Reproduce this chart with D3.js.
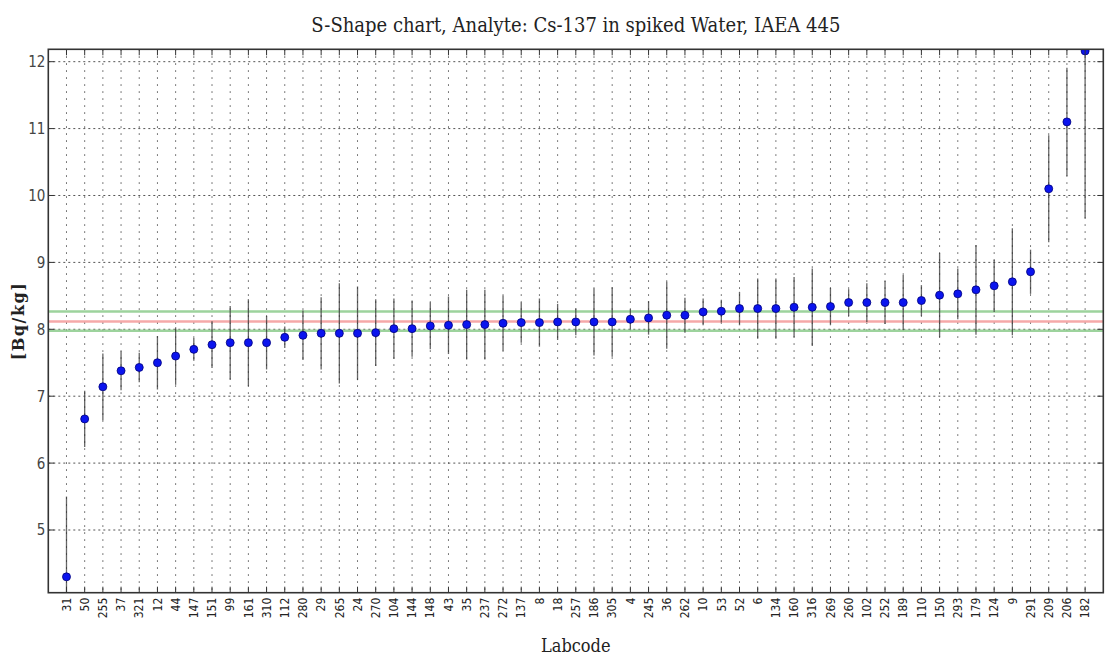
<!DOCTYPE html>
<html>
<head>
<meta charset="utf-8">
<script src="https://cdn.jsdelivr.net/npm/d3@7"></script>
<style>
  html, body { margin: 0; padding: 0; background: #fff; }
</style>
</head>
<body>
<script>
// ---- data ----
const labcodes = ["31","50","255","37","321","12","44","147","151","99","161","310","112","280","29","265","24","270","104","144","148","43","35","237","272","137","8","18","257","186","305","4","245","36","262","10","53","52","6","134","160","316","269","260","102","252","189","110","150","293","179","124","9","291","209","206","182"];
const values = [4.30,6.66,7.14,7.38,7.43,7.50,7.60,7.70,7.77,7.80,7.80,7.80,7.88,7.91,7.94,7.94,7.94,7.95,8.01,8.01,8.05,8.06,8.07,8.07,8.09,8.10,8.10,8.11,8.11,8.11,8.11,8.15,8.17,8.21,8.21,8.26,8.27,8.31,8.31,8.31,8.33,8.33,8.34,8.40,8.40,8.40,8.40,8.43,8.51,8.53,8.59,8.65,8.71,8.86,10.10,11.10,12.16];
const uncertainties = [1.20,0.42,0.50,0.29,0.22,0.40,0.43,0.17,0.35,0.55,0.65,0.40,0.16,0.37,0.54,0.75,0.70,0.50,0.45,0.42,0.35,0.43,0.52,0.52,0.41,0.30,0.36,0.27,0.20,0.50,0.52,0.15,0.25,0.50,0.26,0.20,0.17,0.25,0.45,0.45,0.45,0.58,0.28,0.20,0.29,0.32,0.41,0.23,0.63,0.38,0.67,0.39,0.80,0.33,0.80,0.81,2.50];
const yTicks = [5,6,7,8,9,10,11,12];
const refValue = 8.115;
const refLow = 7.98;
const refHigh = 8.265;
const titleText = "S-Shape chart, Analyte: Cs-137 in spiked Water, IAEA 445";
const xLabelText = "Labcode";
const yLabelText = "[Bq/kg]";

// ---- layout ----
const W = 1107, H = 659;
const L = 48.3, R = 1103.3, T = 49.3, B = 592.7;

const svg = d3.select("body").append("svg")
  .attr("width", W).attr("height", H)
  .style("display", "block");

const x = d3.scaleLinear().domain([0, labcodes.length + 1]).range([L, R]);
const y = d3.scaleLinear().domain([4.063, 12.185]).range([B, T]);

svg.append("defs").append("clipPath").attr("id", "plotclip")
  .append("rect").attr("x", L).attr("y", T).attr("width", R - L).attr("height", B - T);

const plot = svg.append("g").attr("clip-path", "url(#plotclip)");

// grid: vertical
plot.append("g").selectAll("line").data(labcodes).join("line")
  .attr("x1", (d, i) => x(i + 1)).attr("x2", (d, i) => x(i + 1))
  .attr("y1", T).attr("y2", B)
  .attr("stroke", "#555").attr("stroke-width", 1)
  .attr("stroke-dasharray", "1.5,5.5");

// grid: horizontal
plot.append("g").selectAll("line").data(yTicks).join("line")
  .attr("x1", L).attr("x2", R)
  .attr("y1", d => y(d)).attr("y2", d => y(d))
  .attr("stroke", "#555").attr("stroke-width", 1)
  .attr("stroke-dasharray", "2,3");

// reference lines
const refs = [
  {v: refHigh, c: "#8ccc8c"},
  {v: refValue, c: "#f49a9a"},
  {v: refLow, c: "#8ccc8c"}
];
plot.append("g").selectAll("line").data(refs).join("line")
  .attr("x1", L).attr("x2", R)
  .attr("y1", d => y(d.v)).attr("y2", d => y(d.v))
  .attr("stroke", d => d.c).attr("stroke-width", 2.5).attr("opacity", 0.85);

// error bars
plot.append("g").selectAll("line").data(values).join("line")
  .attr("x1", (d, i) => x(i + 1)).attr("x2", (d, i) => x(i + 1))
  .attr("y1", (d, i) => y(d + uncertainties[i]))
  .attr("y2", (d, i) => y(d - uncertainties[i]))
  .attr("stroke", "#333").attr("stroke-width", 1.3).attr("opacity", 0.75);

// points
plot.append("g").selectAll("circle").data(values).join("circle")
  .attr("cx", (d, i) => x(i + 1)).attr("cy", d => y(d))
  .attr("r", 4)
  .attr("fill", "#0b14ee").attr("stroke", "#00007a").attr("stroke-width", 0.8);

// ticks (inward)
const tickG = svg.append("g").attr("stroke", "#333").attr("stroke-width", 1);
labcodes.forEach((d, i) => {
  tickG.append("line").attr("x1", x(i + 1)).attr("x2", x(i + 1)).attr("y1", B).attr("y2", B - 6);
  tickG.append("line").attr("x1", x(i + 1)).attr("x2", x(i + 1)).attr("y1", T).attr("y2", T + 6);
});
yTicks.forEach(v => {
  tickG.append("line").attr("x1", L).attr("x2", L + 6).attr("y1", y(v)).attr("y2", y(v));
  tickG.append("line").attr("x1", R).attr("x2", R - 6).attr("y1", y(v)).attr("y2", y(v));
});

// frame
svg.append("rect").attr("x", L).attr("y", T).attr("width", R - L).attr("height", B - T)
  .attr("fill", "none").attr("stroke", "#333").attr("stroke-width", 1.6);

// y tick labels
svg.append("g").selectAll("text").data(yTicks).join("text")
  .attr("x", L - 3).attr("y", d => y(d))
  .attr("dy", "0.36em")
  .attr("text-anchor", "end")
  .attr("font-family", "DejaVu Sans Condensed, DejaVu Sans, sans-serif")
  .attr("font-size", 15)
  .attr("fill", "#444")
  .text(d => d);

// x tick labels (rotated)
svg.append("g").selectAll("text").data(labcodes).join("text")
  .attr("transform", (d, i) => `translate(${x(i + 1)},${B + 5}) rotate(-90)`)
  .attr("dy", "0.35em")
  .attr("text-anchor", "end")
  .attr("font-family", "DejaVu Sans Condensed, DejaVu Sans, sans-serif")
  .attr("font-size", 12)
  .attr("fill", "#222")
  .text(d => d);

// title
svg.append("text")
  .attr("x", (L + R) / 2).attr("y", 32)
  .attr("text-anchor", "middle")
  .attr("font-family", "DejaVu Serif Condensed, DejaVu Serif, serif")
  .attr("font-size", 20)
  .attr("fill", "#222")
  .text(titleText);

// x label
svg.append("text")
  .attr("x", (L + R) / 2).attr("y", 652)
  .attr("text-anchor", "middle")
  .attr("font-family", "DejaVu Serif Condensed, DejaVu Serif, serif")
  .attr("font-size", 18)
  .attr("fill", "#222")
  .text(xLabelText);

// y label
svg.append("text")
  .attr("transform", `translate(24,${(T + B) / 2}) rotate(-90)`)
  .attr("text-anchor", "middle")
  .attr("font-family", "DejaVu Serif, serif")
  .attr("font-weight", "bold")
  .attr("font-size", 16)
  .attr("letter-spacing", 1.5)
  .attr("fill", "#222")
  .text(yLabelText);
</script>
</body>
</html>
